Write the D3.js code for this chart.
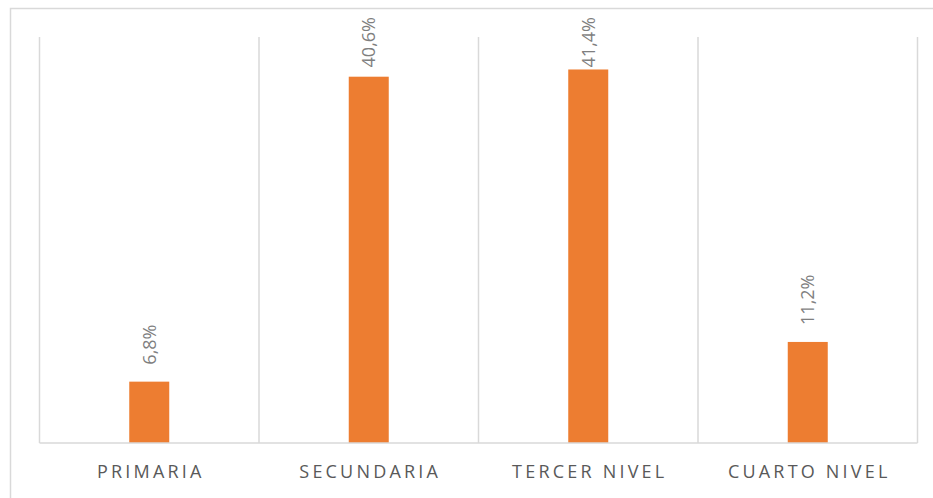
<!DOCTYPE html>
<html>
<head>
<meta charset="utf-8">
<script src="https://cdn.jsdelivr.net/npm/d3@7"></script>
<style>
  html, body { margin: 0; padding: 0; background: #ffffff; }
  svg { display: block; }
</style>
</head>
<body>
<svg id="chart" width="933" height="498"></svg>
<script>
// Education level distribution (percent)
const categories = ["PRIMARIA", "SECUNDARIA", "TERCER NIVEL", "CUARTO NIVEL"];
const values = [6.8, 40.6, 41.4, 11.2];
const valueLabels = ["6,8%", "40,6%", "41,4%", "11,2%"];
const yDomain = [0, 45];

const svg = d3.select("#chart");
const W = 933, H = 498;
const plot = { left: 39.5, right: 917.5, top: 37, bottom: 443 };
const labelTopLimit = 17;
const gridColor = "#d9d9d9";
const barColor = "#ed7d31";
const barWidth = 40;

// outer chart frame
svg.append("rect")
  .attr("x", 10.5).attr("y", 8.5)
  .attr("width", W + 20).attr("height", H + 20)
  .attr("fill", "none")
  .attr("stroke", gridColor)
  .attr("stroke-width", 1.5);

const x = d3.scaleBand()
  .domain(categories)
  .range([plot.left, plot.right])
  .paddingInner(0).paddingOuter(0);

const y = d3.scaleLinear().domain(yDomain).range([plot.bottom, plot.top]);

// vertical category dividers
const dividers = categories.map(c => x(c)).concat([x(categories[categories.length - 1]) + x.bandwidth()]);
svg.append("g").selectAll("line")
  .data(dividers)
  .join("line")
  .attr("x1", d => d).attr("x2", d => d)
  .attr("y1", y(yDomain[1])).attr("y2", y(0))
  .attr("stroke", gridColor)
  .attr("stroke-width", 1.5);

// bars
svg.append("g").selectAll("rect")
  .data(values)
  .join("rect")
  .attr("x", (d, i) => x(categories[i]) + x.bandwidth() / 2 - barWidth / 2)
  .attr("width", barWidth)
  .attr("y", d => y(d))
  .attr("height", d => y(0) - y(d))
  .attr("fill", barColor);

// baseline
svg.append("line")
  .attr("x1", plot.left).attr("x2", plot.right)
  .attr("y1", y(0)).attr("y2", y(0))
  .attr("stroke", gridColor)
  .attr("stroke-width", 1.5);

// rotated value labels above bars, kept inside the chart frame
svg.append("g").selectAll("text")
  .data(values)
  .join("text")
  .attr("text-anchor", "start")
  .attr("dy", "0.35em")
  .attr("font-family", "'Open Sans', sans-serif")
  .attr("font-size", 18)
  .attr("fill", "#7f7f7f")
  .text((d, i) => valueLabels[i])
  .attr("transform", function (d, i) {
    const cx = x(categories[i]) + x.bandwidth() / 2;
    const len = this.getComputedTextLength();
    const start = Math.max(y(d) - 17, labelTopLimit + len);
    return `translate(${cx},${start}) rotate(-90)`;
  });

// category labels
svg.append("g").selectAll("text")
  .data(categories)
  .join("text")
  .attr("x", d => x(d) + x.bandwidth() / 2 + 1.5)
  .attr("y", 477.5)
  .attr("text-anchor", "middle")
  .attr("font-family", "'Open Sans', sans-serif")
  .attr("font-size", 18)
  .attr("letter-spacing", "3.2px")
  .attr("fill", "#595959")
  .text(d => d);
</script>
</body>
</html>
